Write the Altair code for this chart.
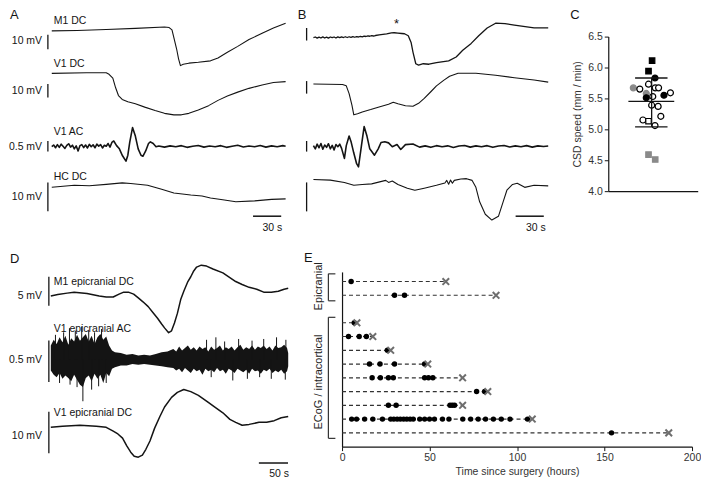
import altair as alt
import pandas as pd

SX, SY = 0.975, 0.968
FONT = "Liberation Sans"
INK = "#141414"

# ===================== DATA =====================
# Panel A traces: time (s), potential (mV)
a_m1_t = [0, 27, 58, 89, 120, 125, 128, 130, 133, 135, 137, 140, 146, 156, 169, 177, 187, 198, 210, 224, 236, 249]
a_m1_v = [0, 0.3, 1.0, 1.7, 2.7, 2.3, 0.7, -4.7, -12.7, -19.3, -24.0, -23.0, -22.3, -21.7, -20.7, -18.7, -14.7, -10.7, -6.0, -1.7, 2.0, 5.3]

a_v1_t = [0, 37, 58, 61, 65, 68, 71, 75, 81, 89, 99, 110, 120, 130, 138, 146, 156, 167, 177, 187, 198, 210, 224, 236, 249]
a_v1_v = [0, 0.4, 0.4, -0.7, -3.6, -10.7, -16.4, -19.3, -21.0, -22.5, -25.0, -27.5, -29.6, -30.7, -30.7, -29.6, -27.1, -23.9, -20.0, -16.8, -13.9, -11.1, -8.6, -6.8, -6.1]

a_ac_t = [0, 2, 4, 6, 8, 10, 12, 14, 16, 18, 20, 22, 24, 26, 28, 30, 32, 34, 36, 38, 40, 42, 44, 46, 48, 50, 52, 54, 56, 58, 60, 62, 64,
          66, 69, 72, 75, 79, 81, 83, 86, 89, 92, 95, 97, 100, 103, 105, 108, 111,
          114, 120, 126, 132, 138, 144, 150, 156, 162, 168, 174, 180, 186, 192, 198, 204, 210, 216, 222, 228, 234, 240, 246, 249]
a_ac_v = [0.00, 0.08, -0.05, 0.10, -0.03, 0.12, 0.02, -0.08, 0.06, 0.14, -0.02, 0.07, -0.10, 0.04, -0.20, 0.05, 0.10, -0.04, 0.08, -0.06,
          0.11, 0.00, 0.09, -0.05, 0.12, 0.03, 0.10, -0.06, 0.07, 0.02, 0.15, -0.02, 0.20,
          0.27, 0.05, -0.10, -0.40, -0.68, -0.40, 0.20, 0.90, 0.50, -0.10, -0.40, -0.45, -0.20, 0.15, 0.23, 0.15, 0.00,
          0.03, -0.02, 0.04, 0.00, 0.05, -0.03, 0.02, 0.06, -0.02, 0.03, 0.00, 0.05, -0.03, 0.02, 0.07, -0.01, 0.03, 0.00,
          0.06, -0.02, 0.04, 0.00, 0.05, 0.02]

a_hc_t = [0, 24, 40, 58, 75, 84, 102, 117, 130, 148, 160, 169, 182, 196, 216, 234, 249]
a_hc_v = [0, 0.7, 0.5, 1.0, 1.5, 1.3, 0.7, -0.7, -2.0, -2.7, -3.0, -3.7, -4.3, -5.0, -4.7, -4.2, -4.0]

# Panel B traces
b_m1_t = [0, 2, 4, 6, 8, 10, 12, 14, 16, 18, 20, 22, 24, 26, 28, 30, 32, 34, 36, 38, 40, 42, 44, 46, 48, 50, 52, 54, 56, 58, 60, 62, 64, 66,
          70, 74, 78, 83, 86, 90, 94, 97, 101, 104, 106, 109, 112, 117, 123, 131, 144, 152, 159, 168, 176, 185, 194, 204, 214, 235, 250]
b_m1_v = [0.0, 0.5, -0.4, 0.4, -0.3, 0.6, -0.3, 0.4, -0.4, 0.5, 0.0, 0.5, -0.3, 0.6, 0.0, 0.6, 0.1, 0.7, 0.1, 0.7, 0.2, 0.8, 0.3, 0.8,
          0.5, 1.0, 0.6, 1.2, 0.9, 1.4, 1.1, 1.6, 1.3, 1.7,
          2.2, 2.6, 3.0, 3.8, 3.9, 3.6, 3.3, 3.1, 1.5, -3.8, -11.5, -20.8, -21.9, -20.8, -21.2, -20.0, -18.5, -15.4, -10.0, -4.6,
          1.5, 7.7, 11.5, 11.2, 10.0, 7.7, 7.7]

b_v1_t = [0, 31, 35, 38, 41, 43, 47, 52, 61, 69, 80, 85, 90, 98, 106, 112, 118, 125, 131, 139, 145, 154, 173, 194, 214, 235, 250]
b_v1_v = [0, -0.4, -1.5, -7.7, -16.9, -24.6, -23.8, -22.3, -20.4, -18.5, -16.2, -14.6, -15.8, -17.3, -17.7, -15.4, -11.5, -6.2,
          -1.5, 3.1, 6.2, 8.5, 8.5, 6.9, 5.0, 3.1, 1.5]

b_ac_t = [0, 2, 4, 6, 8, 10, 12, 14, 16, 18, 20, 22, 24, 26, 28, 30, 33, 35, 38, 40, 43, 46, 48, 51, 54, 57, 60, 65, 69, 72,
          76, 80, 84, 89, 93, 98, 106, 113, 119, 125, 131, 137, 143, 149, 155, 161, 167, 173, 179, 185,
          191, 197, 203, 209, 215, 221, 227, 233, 239, 245, 250]
b_ac_v = [0.05, -0.10, 0.12, -0.05, 0.15, -0.12, 0.08, -0.03, 0.14, -0.10, 0.06, -0.15, 0.10, 0.00, 0.12, -0.08, -0.55, 0.05, 0.50, 0.25,
          -0.30, -0.80, -0.95, 0.00, 0.95, 0.50, -0.10, -0.40, -0.10, 0.20, 0.23, 0.18, 0.00, 0.10, -0.13, 0.10, 0.13, -0.02, 0.04, -0.03,
          0.05, 0.00, 0.04, -0.04, 0.03, 0.06, -0.02, 0.04, 0.00, 0.05, -0.03, 0.03, 0.06, -0.01, 0.04, 0.00, 0.05, -0.02, 0.04, 0.01, 0.03]

b_hc_t = [0, 18, 33, 43, 52, 62, 77, 80, 84, 90, 100, 108, 118, 131, 140, 142, 144, 146, 148, 150, 157, 163, 169, 173, 177, 183, 190,
          197, 202, 206, 212, 217, 225, 235, 250]
b_hc_v = [0, -0.2, -1.0, -2.0, -1.7, -1.5, -0.3, -1.0, -0.5, -1.7, -3.0, -3.7, -3.0, -2.0, -1.2, -0.3, -1.6, -0.2, -1.3, -0.3, 0.2,
          0.3, -0.3, -2.7, -7.7, -12.0, -14.0, -12.7, -7.7, -3.7, -1.7, -1.3, -2.7, -2.0, -2.2]

# Panel C: CSD speed (mm/min), horizontal jitter, marker
c_x = [-0.04, -0.20, 0.09, -0.88, -0.59, -0.20, 0.10, 0.25, -0.30, -0.30, -0.01, 0.49, 0.78, -0.06, 0.23, 0.35, -0.45, -0.20, 0.09, -0.20, 0.10]
c_y = [6.11, 5.94, 5.83, 5.67, 5.65, 5.73, 5.67, 5.67, 5.58, 5.51, 5.53, 5.55, 5.59, 5.39, 5.37, 5.21, 5.15, 5.13, 5.06, 4.59, 4.51]
c_shape = ["square", "square", "circle", "circle", "circle", "circle", "circle", "circle", "circle", "circle", "circle",
           "circle", "circle", "circle", "circle", "circle", "circle", "square", "circle", "square", "square"]
c_fill = ["black", "black", "black", "gray", "white", "white", "white", "white", "gray", "black", "white",
          "black", "white", "white", "white", "white", "white", "white", "white", "gray", "gray"]
c_mean, c_sd_hi, c_sd_lo = 5.45, 5.83, 5.04
c_ticks = [4.0, 4.5, 5.0, 5.5, 6.0, 6.5]

# Panel D traces
d_m1_t = [0, 12, 28, 40, 62, 83, 95, 107, 117, 125, 133, 142, 150, 158, 167, 175, 183, 190, 195, 202, 207, 212, 217, 223, 228, 235,
          240, 245, 250, 258, 267, 278, 295, 317, 328, 340, 353, 365, 378, 390, 400, 407]
d_m1_v = [0, 0.25, 0.5, 0.67, 0.42, 0, -0.17, -0.17, 0.33, 0.67, 0.67, 0.33, -0.33, -1, -1.83, -2.83, -3.83, -4.83, -5.5, -6.33,
          -6, -4.67, -3, -0.5, 0.83, 2.5, 3.33, 4.33, 5, 5.33, 5.17, 4.67, 4, 2.5, 2, 1.5, 1.17, 0.67, 0.67, 0.83, 1.17, 1.33]

d_ac_t = [0, 5, 10, 15, 20, 25, 30, 35, 40, 45, 50, 55, 60, 65, 70, 75, 80, 85, 90, 95, 100, 105,
          110, 120, 130, 140, 150, 160, 170, 180, 190, 200,
          210, 215, 220, 225, 230, 235, 240, 245, 250, 255, 260, 265, 270, 275, 280, 285, 290, 295, 300, 305,
          310, 315, 320, 325, 330, 335, 340, 345, 350, 355, 360, 365, 370, 375, 380, 385, 390, 395, 400, 405, 407]
d_ac_hi = [0.17, 0.24, 0.19, 0.27, 0.21, 0.29, 0.18, 0.26, 0.22, 0.30, 0.23, 0.27, 0.31, 0.22, 0.29, 0.19, 0.27, 0.31, 0.24, 0.28, 0.17, 0.11,
           0.09, 0.08, 0.06, 0.07, 0.05, 0.06, 0.05, 0.07, 0.09, 0.10,
           0.13, 0.10, 0.16, 0.11, 0.14, 0.17, 0.12, 0.15, 0.11, 0.16, 0.13, 0.15, 0.10, 0.16, 0.12, 0.14, 0.17, 0.11, 0.15, 0.13,
           0.16, 0.11, 0.15, 0.18, 0.12, 0.15, 0.13, 0.17, 0.12, 0.16, 0.14, 0.17, 0.13, 0.16, 0.11, 0.17, 0.14, 0.15, 0.18, 0.14, 0.08]
d_ac_lo = [-0.13, -0.18, -0.21, -0.16, -0.23, -0.19, -0.22, -0.26, -0.18, -0.24, -0.30, -0.33, -0.22, -0.19, -0.26, -0.17, -0.23, -0.18, -0.28, -0.16, -0.20, -0.11,
           -0.09, -0.07, -0.07, -0.05, -0.06, -0.05, -0.06, -0.07, -0.08, -0.09,
           -0.10, -0.13, -0.11, -0.15, -0.10, -0.13, -0.16, -0.11, -0.14, -0.12, -0.18, -0.11, -0.14, -0.12, -0.15, -0.10, -0.14, -0.12, -0.17, -0.11,
           -0.13, -0.16, -0.11, -0.13, -0.15, -0.12, -0.17, -0.11, -0.14, -0.13, -0.17, -0.12, -0.14, -0.11, -0.16, -0.13, -0.15, -0.12, -0.17, -0.14, -0.08]
# single large deflections that stand out of the noise band (s, mV)
d_spk_t = [8, 15, 22, 32, 33, 42, 45, 53, 55, 65, 70, 75, 82, 87, 95,
           267, 275, 283, 298, 312, 322, 337, 345, 358, 365, 378, 387, 402, 403]
d_spk_v = [0.30, -0.28, 0.33, 0.38, -0.30, 0.35, -0.33, 0.40, -0.50, 0.36, -0.36, 0.33, -0.32, 0.37, -0.28,
           0.24, -0.21, 0.27, 0.22, -0.25, 0.25, -0.23, 0.23, -0.21, 0.25, -0.23, 0.27, -0.24, 0.24]

d_dc_t = [0, 20, 50, 78, 95, 107, 115, 123, 130, 137, 143, 150, 157, 163, 170, 178, 187, 195, 207, 217, 228, 240, 253, 270, 283,
          295, 307, 317, 328, 340, 357, 370, 383, 395, 407]
d_dc_v = [0, 0.23, 0.47, 0.23, 0, -0.93, -1.6, -2.6, -4.4, -6.0, -7.0, -7.2, -6.7, -5.3, -3.3, -0.2, 2.6, 4.9, 7.2, 8.4, 9.1, 8.6,
          7.7, 6.0, 4.7, 3.5, 1.9, 1.2, 0.5, 0.7, 1.2, 1.2, 1.6, 2.3, 2.6]

# Panel E: recordings (row index), CSD times (h), end of recording (h)
e_rows = [0, 1, 3, 4, 5, 6, 7, 8, 9, 10, 11]
e_end = [59.3, 88.0, 8.5, 17.6, 27.8, 49.0, 68.9, 83.3, 68.9, 108.7, 186.7]
e_dots = [
    [5.2],
    [30.0, 35.7],
    [7.0],
    [3.7, 9.8, 13.9],
    [25.9],
    [15.7, 21.7, 30.0, 47.2],
    [17.2, 21.9, 26.5, 29.3, 47.2, 49.4, 51.9],
    [76.9, 81.5],
    [26.5, 30.9, 61.7, 63.0, 64.3],
    [5.5, 8.3, 12.9, 17.6, 23.1, 27.8, 29.6, 31.5, 33.3, 35.2, 37.0, 38.9, 40.7, 44.4, 47.2, 50.0, 52.8, 57.4, 61.1,
     69.0, 73.5, 77.8, 82.0, 86.5, 91.0, 96.0, 106.0],
    [154.0],
]
e_ticks = [0, 50, 100, 150, 200]

# ===================== HELPERS =====================
def xscale(px0, px1, x0, pps):
    return alt.Scale(domain=[(px0 - x0) / pps, (px1 - x0) / pps], nice=False, zero=False)


def trace(t, v, xs, yb, gain, H, bar_t, bar_lo, bar_len, sw=1.1, lo=None, spikes=None):
    ys = alt.Scale(domain=[-(H - yb) / gain, yb / gain], nice=False, zero=False)
    X = alt.X("t:Q", scale=xs, axis=None)
    Y = alt.Y("v:Q", scale=ys, axis=None)
    layers = []
    if lo is None:
        layers.append(alt.Chart(pd.DataFrame({"t": t, "v": v})).mark_line(
            color=INK, strokeWidth=sw, strokeJoin="round").encode(x=X, y=Y))
    else:
        layers.append(alt.Chart(pd.DataFrame({"t": t, "v": v, "v2": lo})).mark_area(
            color=INK, opacity=1).encode(x=X, y=Y, y2="v2:Q"))
    if spikes is not None:
        layers.append(alt.Chart(pd.DataFrame({"t": spikes[0], "v": spikes[1], "v2": [0] * len(spikes[0])})).mark_rule(
            color=INK, strokeWidth=1).encode(x=X, y=Y, y2="v2:Q"))
    layers.append(alt.Chart(pd.DataFrame({"t": [bar_t], "v": [bar_lo], "v2": [bar_lo + bar_len]})).mark_rule(
        color=INK, strokeWidth=1.3).encode(x=X, y=Y, y2="v2:Q"))
    return alt.layer(*layers)


def texts(rows, xs, H, x0, pps, align="left", size=10.5):
    df = pd.DataFrame({"t": [(r[0] - x0) / pps for r in rows],
                       "py": [r[1] for r in rows],
                       "s": [r[2] for r in rows]})
    return alt.Chart(df).mark_text(align=align, baseline="middle", fontSize=size, font=FONT, color=INK).encode(
        x=alt.X("t:Q", scale=xs, axis=None),
        y=alt.Y("py:Q", scale=alt.Scale(domain=[H, 0], nice=False, zero=False), axis=None),
        text="s:N")


def tbar(t0, t1, py, xs, H):
    df = pd.DataFrame({"t": [t0], "t2": [t1], "py": [py]})
    return alt.Chart(df).mark_rule(color=INK, strokeWidth=1.5).encode(
        x=alt.X("t:Q", scale=xs, axis=None), x2="t2:Q",
        y=alt.Y("py:Q", scale=alt.Scale(domain=[H, 0], nice=False, zero=False), axis=None))


# ===================== PANEL A =====================
AH, AW, A0, APS = 240, 285, 44, 0.966
xsA = xscale(0, AW, A0, APS)
tbA = (40 - A0) / APS
panelA = alt.layer(
    trace(a_m1_t, a_m1_v, xsA, 23, 1.5, AH, tbA, -12.67, 10),
    trace(a_v1_t, a_v1_v, xsA, 67, 1.4, AH, tbA, -17.86, 10),
    trace(a_ac_t, a_ac_v, xsA, 143, 22, AH, tbA, -0.23, 0.5, sw=1.6),
    trace(a_hc_t, a_hc_v, xsA, 185, 3, AH, tbA, -8.33, 10),
    texts([(46, 13, "M1 DC"), (46, 57, "V1 DC"), (46, 128, "V1 AC"), (46, 174, "HC DC")], xsA, AH, A0, APS),
    texts([(34, 33, "10 mV"), (34, 85, "10 mV"), (34, 143, "0.5 mV"), (34, 195, "10 mV")], xsA, AH, A0, APS, align="right"),
    texts([(1, 7, "A")], xsA, AH, A0, APS, size=13),
    tbar(214.3, 244.3, 215, xsA, AH),
    texts([(281, 227, "30 s")], xsA, AH, A0, APS, align="right"),
).resolve_scale(y="independent").properties(width=AW * SX, height=AH * SY)

# ===================== PANEL B =====================
BH, B0, BPS = 240, 313, 0.966
xsB = xscale(285, 616, B0, BPS)
tbB = (306 - B0) / BPS
panelB = alt.layer(
    trace(b_m1_t, b_m1_v, xsB, 30, 1.3, BH, tbB, -2.3, 10, sw=1.3),
    trace(b_v1_t, b_v1_v, xsB, 78, 1.3, BH, tbB, -7.7, 10),
    trace(b_ac_t, b_ac_v, xsB, 143, 22, BH, tbB, -0.23, 0.5, sw=1.6),
    trace(b_hc_t, b_hc_v, xsB, 177, 3, BH, tbB, -11, 10),
    texts([(297, 7, "B")], xsB, BH, B0, BPS, size=13),
    texts([(396, 16, "*")], xsB, BH, B0, BPS, size=13),
    tbar(215.3, 245.3, 215, xsB, BH),
    texts([(552, 227, "30 s")], xsB, BH, B0, BPS, align="right"),
).resolve_scale(y="independent").properties(width=(616 - 285) * SX, height=BH * SY)

# ===================== PANEL C =====================
cdf = pd.DataFrame({"x": c_x, "y": c_y, "shape": c_shape, "fill": c_fill})
xsC = alt.Scale(domain=[-2, 2], nice=False, zero=False)
ysC = alt.Scale(domain=[4.0, 6.5], nice=False, zero=False)
axCX = alt.Axis(title=None, labels=False, ticks=False, grid=False, domainColor=INK, domainWidth=1.2)
axCY = alt.Axis(values=c_ticks, format=".1f", title="CSD speed (mm / min)", grid=False, tickSize=4,
                labelFontSize=10.5, titleFontSize=10.5, titleFontWeight="normal",
                labelColor="#333333", titleColor="#333333",
                labelOverlap=False, labelFlush=False, labelBound=False,
                domainColor=INK, tickColor=INK, domainWidth=1.2, labelPadding=2, titlePadding=5)
c_pts = alt.Chart(cdf).mark_point(filled=True, opacity=1, strokeWidth=1.2).encode(
    x=alt.X("x:Q", scale=xsC, axis=axCX),
    y=alt.Y("y:Q", scale=ysC, axis=axCY),
    shape=alt.Shape("shape:N", scale=alt.Scale(domain=["circle", "square"], range=["circle", "square"]), legend=None),
    size=alt.Size("shape:N", scale=alt.Scale(domain=["circle", "square"], range=[36, 30]), legend=None),
    fill=alt.Fill("fill:N", scale=alt.Scale(domain=["black", "white", "gray"], range=["#000000", "#ffffff", "#8a8a8a"]), legend=None),
    stroke=alt.Stroke("fill:N", scale=alt.Scale(domain=["black", "white", "gray"], range=["#000000", "#000000", "#8a8a8a"]), legend=None),
)
c_stats = pd.DataFrame({"x": [-1.1, -0.8, -0.8, -0.06], "x2": [0.95, 0.65, 0.65, -0.06],
                        "y": [c_mean, c_sd_hi, c_sd_lo, c_sd_lo], "y2": [c_mean, c_sd_hi, c_sd_lo, c_sd_hi]})
c_lines = alt.Chart(c_stats).mark_rule(color=INK, strokeWidth=1.3).encode(
    x=alt.X("x:Q", scale=xsC, axis=axCX), x2="x2:Q", y=alt.Y("y:Q", scale=ysC, axis=axCY), y2="y2:Q")
c_plot = alt.layer(c_pts, c_lines).properties(width=92 * SX, height=160 * SY)
c_space = alt.Chart(pd.DataFrame({"s": ["C"]})).mark_text(
    align="left", baseline="middle", fontSize=13, font=FONT, color=INK).encode(
    x=alt.value(-39 * SX), y=alt.value(7 * SY), text="s:N").properties(width=92 * SX, height=28 * SY)
c_col = alt.vconcat(c_space, c_plot, spacing=0, bounds="flush")

# ===================== PANEL D =====================
DH, DW, D0, DPS = 247, 342, 43, 0.6
xsD = xscale(0, DW, D0, DPS)
tbD = (41 - D0) / DPS
panelD = alt.layer(
    trace(d_m1_t, d_m1_v, xsD, 57, 6, DH, tbD, -1.67, 5, sw=1.5),
    trace(d_ac_t, d_ac_hi, xsD, 123, 86, DH, tbD, -0.267, 0.5, lo=d_ac_lo, spikes=(d_spk_t, d_spk_v)),
    trace(d_dc_t, d_dc_v, xsD, 193, 4.3, DH, tbD, -6.28, 10, sw=1.5),
    texts([(46, 42, "M1 epicranial DC"), (46, 91, "V1 epicranial AC"), (46, 178, "V1 epicranial DC")], xsD, DH, D0, DPS),
    texts([(34, 57, "5 mV"), (34, 123, "0.5 mV"), (34, 202, "10 mV")], xsD, DH, D0, DPS, align="right"),
    texts([(1, 19, "D")], xsD, DH, D0, DPS, size=13),
    tbar(356.7, 406.7, 230, xsD, DH),
    texts([(288, 241, "50 s")], xsD, DH, D0, DPS, align="right"),
).resolve_scale(y="independent").properties(width=DW * SX, height=DH * SY)

# ===================== PANEL E =====================
xsE = alt.Scale(domain=[0, 200], nice=False, zero=False)
ysE = alt.Scale(domain=[-0.7, 12], nice=False, zero=False, reverse=True)
axEX = alt.Axis(values=e_ticks, title="Time since surgery (hours)", grid=False, tickSize=4,
                labelFontSize=10.5, titleFontSize=10.5, titleFontWeight="normal",
                labelColor="#333333", titleColor="#333333", labelOverlap=False, labelFlush=False,
                domainColor=INK, tickColor=INK, domainWidth=1.2, labelPadding=2, titlePadding=3)
axEY = alt.Axis(title=None, labels=False, ticks=False, grid=False, domainColor=INK, domainWidth=1.2)
e_lines = pd.DataFrame({"row": e_rows, "start": [0] * len(e_rows), "end": e_end})
e_pts = pd.DataFrame({"row": [r for r, ds in zip(e_rows, e_dots) for _ in ds],
                      "h": [d for ds in e_dots for d in ds]})
e_dash = alt.Chart(e_lines).mark_rule(color="#333333", strokeWidth=1.1, strokeDash=[4, 3]).encode(
    x=alt.X("start:Q", scale=xsE, axis=axEX), x2="end:Q", y=alt.Y("row:Q", scale=ysE, axis=axEY))
e_dot = alt.Chart(e_pts).mark_circle(color="#000000", size=30, opacity=1).encode(
    x=alt.X("h:Q", scale=xsE, axis=axEX), y=alt.Y("row:Q", scale=ysE, axis=axEY))
e_x = alt.Chart(e_lines).mark_point(shape="M-1,-1L1,1M-1,1L1,-1", size=44, strokeWidth=2,
                                    color="#6e6e6e", filled=False, opacity=1).encode(
    x=alt.X("end:Q", scale=xsE, axis=axEX), y=alt.Y("row:Q", scale=ysE, axis=axEY))
br = pd.DataFrame({"x": [-7.8, -7.8, -7.8, -7.8, -7.8, -7.8],
                   "x2": [-7.8, -3.8, -3.8, -7.8, -3.8, -3.8],
                   "y": [-0.56, -0.56, 1.4, 2.6, 2.6, 11.4],
                   "y2": [1.4, -0.56, 1.4, 11.4, 2.6, 11.4]})
e_br = alt.Chart(br).mark_rule(color="#333333", strokeWidth=1.2).encode(
    x=alt.X("x:Q", scale=xsE, axis=axEX), x2="x2:Q", y=alt.Y("y:Q", scale=ysE, axis=axEY), y2="y2:Q")
e_lab = alt.Chart(pd.DataFrame({"x": [-13.3, -13.3], "y": [0.35, 7.3], "s": ["Epicranial", "ECoG / intracortical"]})).mark_text(
    angle=270, align="center", baseline="middle", fontSize=11, font=FONT, color="#222222").encode(
    x=alt.X("x:Q", scale=xsE, axis=axEX), y=alt.Y("y:Q", scale=ysE, axis=axEY), text="s:N")
e_plot = alt.layer(e_dash, e_br, e_lab, e_dot, e_x).properties(width=360 * SX, height=181 * SY)
e_space = alt.Chart(pd.DataFrame({"s": ["E"]})).mark_text(
    align="left", baseline="middle", fontSize=13, font=FONT, color=INK).encode(
    x=alt.value(-39 * SX), y=alt.value(18 * SY), text="s:N").properties(width=360 * SX, height=32 * SY)
e_col = alt.vconcat(e_space, e_plot, spacing=0, bounds="flush")

# ===================== LAYOUT =====================
top = alt.hconcat(panelA, panelB, c_col, spacing=0, bounds="flush")
bottom = alt.hconcat(panelD, e_col, spacing=0, bounds="flush")
chart = (
    alt.vconcat(top, bottom, spacing=0)
    .properties(padding=0)
    .configure(font=FONT)
    .configure_view(stroke=None)
    .configure_axis(labelFont=FONT, titleFont=FONT)
)

chart.save("out.html", embed_options={"renderer": "svg", "actions": False})
